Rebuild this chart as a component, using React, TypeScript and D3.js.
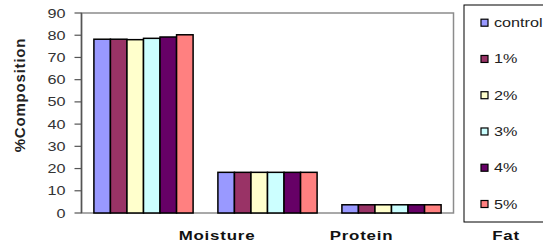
import React from "react";
import * as d3 from "d3";

const categories = ["Moisture", "Protein", "Fat"];
const seriesNames = ["control", "1%", "2%", "3%", "4%", "5%"];
const seriesColors = ["#9999FF", "#993366", "#FFFFCC", "#CCFFFF", "#660066", "#FF8080"];
const control = [78.2, 18.3, 3.7];
const pct1 = [78.2, 18.3, 3.7];
const pct2 = [78.0, 18.3, 3.7];
const pct3 = [78.6, 18.3, 3.7];
const pct4 = [79.2, 18.3, 3.7];
const pct5 = [80.2, 18.3, 3.7];
const seriesValues = [control, pct1, pct2, pct3, pct4, pct5];
const yTicks = [0, 10, 20, 30, 40, 50, 60, 70, 80, 90];

const W = 543, H = 248;
const left = 81.5, right = 453.5, top = 13, bottom = 213;
const SX = 1.35;
const FONT = "'Liberation Sans', Arial, sans-serif";

export default function App() {
  const x = d3.scaleBand<string>().domain(categories).range([left, right]).paddingInner(0.2).paddingOuter(0.1);
  const xs = d3.scaleBand<string>().domain(seriesNames).range([0, x.bandwidth()]).padding(0);
  const y = d3.scaleLinear().domain([0, 90]).range([bottom, top]);
  const labelX = d3.scalePoint<string>().domain(categories).range([217, 506]);
  const legendY = d3.scalePoint<string>().domain(seriesNames).range([22.7, 204]);

  return (
    <svg width={W} height={H} style={{ position: "absolute", left: 0, top: 0, background: "#fff" }}>
      <rect x={left} y={top} width={right - left} height={bottom - top} fill="#fff" stroke="#8c8c8c" strokeWidth={1.5} />
      {seriesValues.map((vals, si) =>
        categories.map((c, ci) => (
          <rect
            key={`${si}-${ci}`}
            x={(x(c) as number) + (xs(seriesNames[si]) as number)}
            y={y(vals[ci])}
            width={xs.bandwidth()}
            height={bottom - y(vals[ci])}
            fill={seriesColors[si]}
            stroke="#000"
            strokeWidth={1.5}
          />
        ))
      )}
      <line x1={left} x2={left} y1={top} y2={bottom} stroke="#555" strokeWidth={1.5} />
      {yTicks.map((t) => (
        <g key={t}>
          <line x1={left - 7} x2={left} y1={y(t)} y2={y(t)} stroke="#555" strokeWidth={1.2} />
          <g transform={`translate(${left - 16},${y(t) + 4.5}) scale(${SX},1)`}>
            <text textAnchor="end" fontFamily={FONT} fontSize={12} fill="#333">{t}</text>
          </g>
        </g>
      ))}
      <text
        transform={`translate(25,95) rotate(-90)`}
        textAnchor="middle"
        fontFamily={FONT}
        fontSize={15}
        fontWeight="bold"
        letterSpacing={0.8}
        fill="#222"
      >%Composition</text>
      {categories.map((c) => (
        <g key={c} transform={`translate(${labelX(c)},240) scale(${SX},1)`}>
          <text textAnchor="middle" fontFamily={FONT} fontSize={12.5} fontWeight="bold" letterSpacing={0.6} fill="#111">{c}</text>
        </g>
      ))}
      <rect x={464} y={5} width={100} height={217} fill="#fff" stroke="#000" strokeWidth={1} />
      {seriesNames.map((s, i) => (
        <g key={s}>
          <rect x={481} y={(legendY(s) as number) - 3.5} width={7} height={7} fill={seriesColors[i]} stroke="#000" strokeWidth={1.2} />
          <g transform={`translate(494,${(legendY(s) as number) + 4.5}) scale(${SX},1)`}>
            <text fontFamily={FONT} fontSize={12} fill="#222">{s}</text>
          </g>
        </g>
      ))}
    </svg>
  );
}
